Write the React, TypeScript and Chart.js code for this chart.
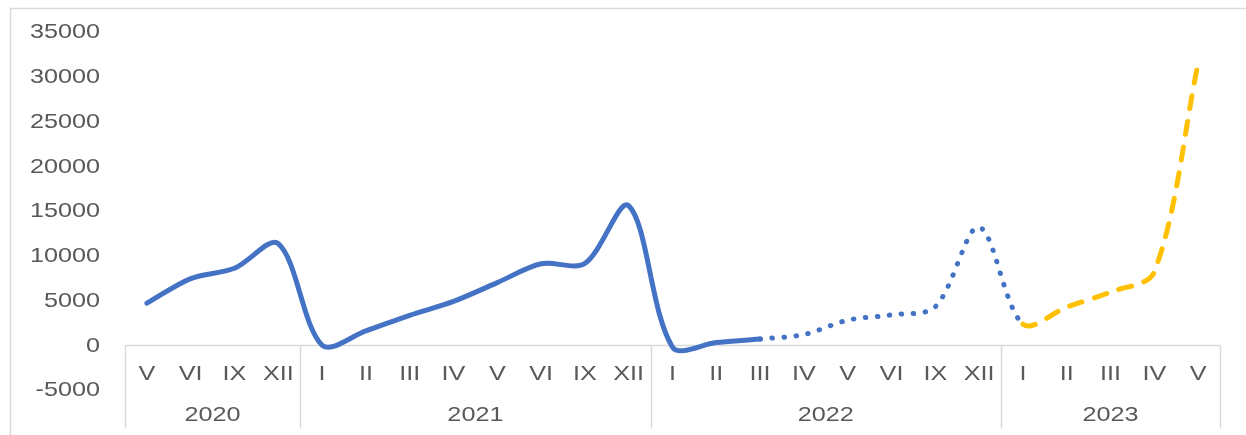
import React, { useEffect, useRef } from "react";
import { Chart, registerables } from "chart.js";

Chart.register(...registerables);

const monthLabels = [
  "V", "VI", "IX", "XII",
  "I", "II", "III", "IV", "V", "VI", "IX", "XII",
  "I", "II", "III", "IV", "V", "VI", "IX", "XII",
  "I", "II", "III", "IV", "V",
];
const yearGroups = ["2020", "2021", "2022", "2023"];
const yearGroupSizes = [4, 8, 8, 5];
const values = [
  4700, 7450, 8600, 11350,
  0, 1600, 3350, 4900, 7000, 9100, 9150, 15600,
  -200, 300, 700, 1200, 2800, 3400, 4300, 13200,
  2350, 4250, 5950, 8200, 31500,
];
// index where dotted (provisional) style starts and where dashed (forecast) style starts
const dottedStart = 14;
const dashedStart = 20;
const yTicks = [-5000, 0, 5000, 10000, 15000, 20000, 25000, 30000, 35000];

const BLUE = "#4472C4";
const GOLD = "#FFC000";
const TEXT = "#595959";
const LINE = "#D9D9D9";
const FONT = "'Liberation Sans', Arial, sans-serif";
const STRETCH = 1.2;

function wideText(ctx: CanvasRenderingContext2D, text: string, x: number, y: number, align: CanvasTextAlign) {
  ctx.save();
  ctx.translate(x, y);
  ctx.scale(STRETCH, 1);
  ctx.textAlign = align;
  ctx.fillText(text, 0, 0);
  ctx.restore();
}

export default function App() {
  const ref = useRef<HTMLCanvasElement | null>(null);

  useEffect(() => {
    document.body.style.margin = "0";
    const canvas = ref.current!;
    const axisPlugin = {
      id: "groupAxis",
      beforeDraw(chart: any) {
        const ctx = chart.ctx;
        ctx.save();
        ctx.strokeStyle = LINE;
        ctx.lineWidth = 1.5;
        ctx.strokeRect(10.5, 8.5, 1400, 600);
        ctx.restore();
      },
      beforeDatasetsDraw(chart: any) {
        const ctx = chart.ctx;
        const xs = chart.scales.x;
        const ys = chart.scales.y;
        const area = chart.chartArea;
        const y0 = Math.round(ys.getPixelForValue(0)) + 0.5;
        const step = (area.right - area.left) / monthLabels.length;
        ctx.save();
        ctx.strokeStyle = LINE;
        ctx.lineWidth = 1.5;
        ctx.beginPath();
        ctx.moveTo(area.left, y0);
        ctx.lineTo(area.right, y0);
        let idx = 0;
        const bounds = [0];
        yearGroupSizes.forEach((s) => {
          idx += s;
          bounds.push(idx);
        });
        bounds.forEach((b) => {
          const x = Math.round(area.left + b * step) + 0.5;
          ctx.moveTo(x, y0);
          ctx.lineTo(x, y0 + 83);
        });
        ctx.stroke();

        ctx.fillStyle = TEXT;
        ctx.font = `21px ${FONT}`;
        ctx.textBaseline = "middle";
        yTicks.forEach((v) => {
          wideText(ctx, String(v), 100, ys.getPixelForValue(v) + 0.5, "right");
        });
        monthLabels.forEach((lab, i) => {
          wideText(ctx, lab, xs.getPixelForValue(i), y0 + 28.5, "center");
        });
        yearGroups.forEach((yr, g) => {
          const a = area.left + bounds[g] * step;
          const b = area.left + bounds[g + 1] * step;
          wideText(ctx, yr, (a + b) / 2, y0 + 70, "center");
        });
        ctx.restore();
      },
    };

    const chart = new Chart(canvas, {
      type: "line",
      data: {
        labels: monthLabels.map((m, i) => `${m}-${i}`),
        datasets: [
          {
            data: values,
            borderColor: BLUE,
            borderWidth: 5,
            borderCapStyle: "round",
            borderJoinStyle: "round",
            tension: 0.32,
            pointRadius: 0,
            pointHoverRadius: 0,
            fill: false,
            segment: {
              borderColor: (c: any) => (c.p0DataIndex >= dashedStart ? GOLD : BLUE),
              borderDash: (c: any) =>
                c.p0DataIndex >= dashedStart
                  ? [13, 13]
                  : c.p0DataIndex >= dottedStart
                  ? [0.5, 11.5]
                  : [],
            },
          } as any,
        ],
      },
      options: {
        animation: false,
        responsive: false,
        maintainAspectRatio: false,
        events: [],
        layout: { padding: { left: 0, right: 26, top: 32, bottom: 45 } },
        plugins: { legend: { display: false }, tooltip: { enabled: false } },
        scales: {
          x: { type: "category", offset: true, display: false },
          y: {
            min: -5000,
            max: 35000,
            afterBuildTicks: (s: any) => {
              s.ticks = yTicks.map((v) => ({ value: v }));
            },
            afterFit: (s: any) => {
              s.width = 125;
            },
            grid: { display: false, drawTicks: false },
            border: { display: false },
            ticks: { display: false },
          },
        },
      },
      plugins: [axisPlugin],
    });
    return () => chart.destroy();
  }, []);

  return (
    <div style={{ width: 1246, height: 435, position: "relative", background: "#fff" }}>
      <canvas ref={ref} width={1246} height={435} style={{ display: "block" }} />
    </div>
  );
}
